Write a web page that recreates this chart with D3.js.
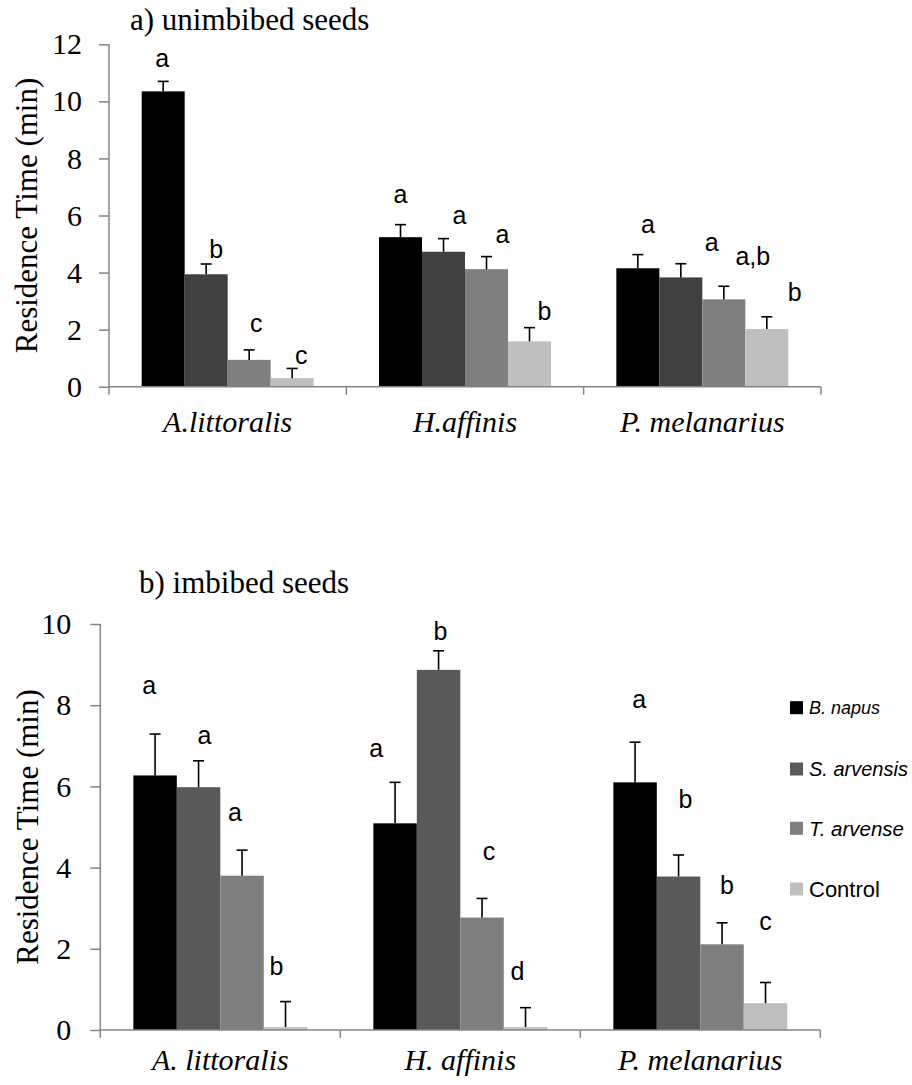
<!DOCTYPE html>
<html>
<head>
<meta charset="utf-8">
<script src="https://cdn.jsdelivr.net/npm/d3@7/dist/d3.min.js"></script>
<style>
  html, body { margin: 0; padding: 0; background: #fff; }
  svg { display: block; }
  .serif { font-family: "Liberation Serif", "Times New Roman", "DejaVu Serif", serif; }
  .sans { font-family: "Liberation Sans", Arial, sans-serif; }
</style>
</head>
<body>
<svg id="chart" width="912" height="1085"></svg>
<script>
// Beetle species (x groups) and seed treatments (bar series)
const categoriesA = ["A.littoralis", "H.affinis", "P. melanarius"];
const categoriesB = ["A. littoralis", "H. affinis", "P. melanarius"];
const series = ["B. napus", "S. arvensis", "T. arvense", "Control"];

// a) unimbibed seeds: mean residence time (min) per treatment, and standard errors
const unimbibedMeans = [
  [10.35, 3.94, 0.94, 0.30],
  [5.24, 4.73, 4.12, 1.59],
  [4.15, 3.83, 3.06, 2.02]
];
const unimbibedErrors = [
  [0.35, 0.36, 0.35, 0.34],
  [0.44, 0.46, 0.44, 0.48],
  [0.48, 0.48, 0.46, 0.43]
];
const unimbibedLetters = [
  ["a", "b", "c", "c"],
  ["a", "a", "a", "b"],
  ["a", "a", "a,b", "b"]
];

// b) imbibed seeds
const imbibedMeans = [
  [6.27, 5.98, 3.80, 0.07],
  [5.09, 8.87, 2.77, 0.07],
  [6.10, 3.78, 2.11, 0.66]
];
const imbibedErrors = [
  [1.02, 0.65, 0.63, 0.63],
  [1.01, 0.47, 0.47, 0.48],
  [0.99, 0.53, 0.53, 0.51]
];
const imbibedLetters = [
  ["a", "a", "a", "b"],
  ["a", "b", "c", "d"],
  ["a", "b", "b", "c"]
];

const ticksA = [0, 2, 4, 6, 8, 10, 12];
const ticksB = [0, 2, 4, 6, 8, 10];

// Placement of the significance letters: baseline height (axis units) and horizontal nudge (px)
const letterLevelA = [
  [11.22, 4.50, 1.93, 0.79],
  [6.43, 5.70, 5.05, 2.34],
  [5.38, 4.77, 4.27, 3.00]
];
const letterNudgeA = [
  [-1, 10, 7, 9],
  [0, 16, 16, 15],
  [10, 31, 29, 28]
];
const letterLevelB = [
  [8.28, 7.04, 5.16, 1.35],
  [6.73, 9.61, 4.19, 1.23],
  [7.92, 5.46, 3.35, 2.46]
];
const letterNudgeB = [
  [-6, 6, -7, -9],
  [-19, 2, 7, -8],
  [4, 7, 5, 0]
];

const colorsA = ["#000000", "#404040", "#7f7f7f", "#bfbfbf"];
const colorsB = ["#000000", "#595959", "#7f7f7f", "#bfbfbf"];

const svg = d3.select("#chart");
const axisColor = "#868686";

function drawPanel(cfg) {
  const g = svg.append("g");

  const y = d3.scaleLinear().domain(cfg.domain).range([cfg.bottom, cfg.top]);
  const x0 = d3.scaleBand().domain(cfg.categories).range([cfg.left, cfg.right]).padding(0);
  const x1 = d3.scaleBand().domain(series).range([0, x0.bandwidth()])
    .paddingInner(0).paddingOuter(0.76);

  // Title
  g.append("text").attr("class", "serif")
    .attr("x", cfg.titleX).attr("y", cfg.titleY)
    .style("font-size", "31px")
    .attr("fill", "#000")
    .text(cfg.title);

  // Y axis
  const yAxis = d3.axisLeft(y).tickValues(cfg.ticks).tickSize(10).tickSizeOuter(0).tickPadding(cfg.tickPad)
    .tickFormat(d3.format("d"));
  const ya = g.append("g").attr("transform", `translate(${cfg.left},0)`).call(yAxis)
    .attr("font-family", null).attr("font-size", null);
  ya.select(".domain").remove();
  ya.selectAll(".tick line").attr("stroke", axisColor).attr("stroke-width", 1.5);
  ya.selectAll(".tick text").attr("class", "serif").style("font-size", "30px").attr("fill", "#000");
  g.append("line")
    .attr("x1", cfg.left).attr("x2", cfg.left)
    .attr("y1", cfg.top).attr("y2", cfg.bottom + 8)
    .attr("stroke", axisColor).attr("stroke-width", 1.5);

  // Y axis title
  g.append("text").attr("class", "serif")
    .attr("transform", `translate(${cfg.yTitleX},${(cfg.top + cfg.bottom) / 2}) rotate(-90)`)
    .attr("text-anchor", "middle")
    .style("font-size", "31px")
    .text("Residence Time (min)");

  // Bars
  const groups = g.selectAll(".grp").data(cfg.categories).join("g")
    .attr("transform", d => `translate(${x0(d)},0)`);

  groups.each(function (cat, ci) {
    const grp = d3.select(this);
    const rows = series.map((s, si) => ({
      s, si,
      v: cfg.means[ci][si],
      e: cfg.errors[ci][si],
      letter: cfg.letters[ci][si],
      level: cfg.letterLevel[ci][si],
      nudge: cfg.letterNudge[ci][si]
    }));

    grp.selectAll("rect").data(rows).join("rect")
      .attr("x", d => x1(d.s))
      .attr("width", x1.bandwidth())
      .attr("y", d => y(d.v))
      .attr("height", d => y(0) - y(d.v))
      .attr("fill", d => cfg.colors[d.si]);

    // Error bars (upper half only)
    const eb = grp.selectAll(".err").data(rows).join("g").attr("class", "err");
    eb.append("line")
      .attr("x1", d => x1(d.s) + x1.bandwidth() / 2)
      .attr("x2", d => x1(d.s) + x1.bandwidth() / 2)
      .attr("y1", d => y(d.v))
      .attr("y2", d => y(d.v + d.e))
      .attr("stroke", "#000").attr("stroke-width", 1.6);
    eb.append("line")
      .attr("x1", d => x1(d.s) + x1.bandwidth() / 2 - 5.5)
      .attr("x2", d => x1(d.s) + x1.bandwidth() / 2 + 5.5)
      .attr("y1", d => y(d.v + d.e))
      .attr("y2", d => y(d.v + d.e))
      .attr("stroke", "#000").attr("stroke-width", 1.6);

    // Significance letters
    grp.selectAll(".sig").data(rows).join("text").attr("class", "sans")
      .attr("x", d => x1(d.s) + x1.bandwidth() / 2 + d.nudge)
      .attr("y", d => y(d.level))
      .attr("text-anchor", "middle")
      .style("font-size", "25px")
      .attr("fill", "#000")
      .text(d => d.letter);
  });

  // X axis with group boundary ticks
  g.append("line")
    .attr("x1", cfg.left).attr("x2", cfg.right)
    .attr("y1", y(0)).attr("y2", y(0))
    .attr("stroke", axisColor).attr("stroke-width", 1.5);
  const bounds = cfg.categories.map(c => x0(c) + x0.bandwidth());
  g.selectAll(".bt").data(bounds).join("line")
    .attr("x1", d => d).attr("x2", d => d)
    .attr("y1", y(0)).attr("y2", y(0) + 8)
    .attr("stroke", axisColor).attr("stroke-width", 1.5);

  g.selectAll(".cat").data(cfg.categories).join("text").attr("class", "serif")
    .attr("x", d => x0(d) + x0.bandwidth() / 2)
    .attr("y", cfg.catY)
    .attr("text-anchor", "middle")
    .style("font-style", "italic").style("font-size", "30px")
    .text(d => d);

  return { y, x0, x1 };
}

drawPanel({
  title: "a) unimbibed seeds", titleX: 130, titleY: 30,
  categories: categoriesA, means: unimbibedMeans, errors: unimbibedErrors,
  letters: unimbibedLetters, letterLevel: letterLevelA, letterNudge: letterNudgeA,
  colors: colorsA, domain: [0, 12], ticks: ticksA,
  left: 109, right: 821, top: 44.3, bottom: 386.7,
  tickPad: 17, yTitleX: 37, catY: 432
});

drawPanel({
  title: "b) imbibed seeds", titleX: 139, titleY: 593,
  categories: categoriesB, means: imbibedMeans, errors: imbibedErrors,
  letters: imbibedLetters, letterLevel: letterLevelB, letterNudge: letterNudgeB,
  colors: colorsB, domain: [0, 10], ticks: ticksB,
  left: 100.3, right: 820.3, top: 624, bottom: 1030,
  tickPad: 19, yTitleX: 38, catY: 1070
});

// Legend
const legendRows = [707.7, 769, 828.3, 889];
const legendSizes = ["18px", "20px", "20.5px", "22px"];
const legend = svg.append("g");
series.forEach((s, i) => {
  legend.append("rect")
    .attr("x", 790).attr("y", legendRows[i] - 6.5)
    .attr("width", 13).attr("height", 13)
    .attr("fill", colorsB[i]);
  legend.append("text").attr("class", "sans")
    .attr("x", 809).attr("y", legendRows[i])
    .attr("dy", "0.36em")
    .style("font-size", legendSizes[i])
    .style("font-style", s === "Control" ? "normal" : "italic")
    .text(s);
});
</script>
</body>
</html>
